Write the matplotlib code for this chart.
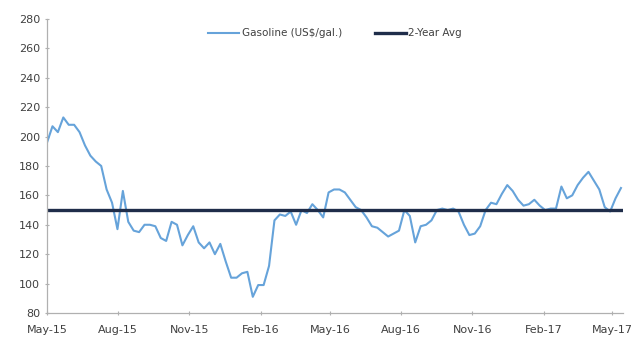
import numpy as np
import pandas as pd
import matplotlib
matplotlib.use("Agg")
import matplotlib.pyplot as plt
import matplotlib.dates as mdates

# weekly gasoline price (US cents/gal)
start_date = "2015-05-01"
gasoline = [196, 207, 203, 213, 208, 208, 203, 194, 187, 183,
            180, 164, 155, 137, 163, 142, 136, 135, 140, 140,
            139, 131, 129, 142, 140, 126, 133, 139, 128, 124,
            128, 120, 127, 115, 104, 104, 107, 108, 91, 99,
            99, 112, 143, 147, 146, 149, 140, 150, 148, 154,
            150, 145, 162, 164, 164, 162, 157, 152, 150, 145,
            139, 138, 135, 132, 134, 136, 150, 146, 128, 139,
            140, 143, 150, 151, 150, 151, 149, 140, 133, 134,
            139, 150, 155, 154, 161, 167, 163, 157, 153, 154,
            157, 153, 150, 151, 151, 166, 158, 160, 167, 172,
            176, 170, 164, 152, 149, 158, 165]
avg_value = 150
tick_dates = ["2015-05-01", "2015-08-01", "2015-11-01", "2016-02-01", "2016-05-01",
              "2016-08-01", "2016-11-01", "2017-02-01", "2017-05-01"]
tick_labels = ["May-15", "Aug-15", "Nov-15", "Feb-16", "May-16",
               "Aug-16", "Nov-16", "Feb-17", "May-17"]
y_ticks = list(range(80, 281, 20))

dates = pd.date_range(start_date, periods=len(gasoline), freq="7D")

fig = plt.figure(figsize=(6.36, 3.38), dpi=100)
ax = fig.add_axes([0.074, 0.074, 0.906, 0.870])

ax.plot(dates, gasoline, color="#66A3DA", lw=1.5, label="Gasoline (US$/gal.)")
ax.plot([dates[0], dates[-1]], [avg_value, avg_value], color="#1F2D4A", lw=2.4,
        label="2-Year Avg")

ax.set_ylim(80, 280)
ax.set_yticks(y_ticks)
ax.set_xlim(pd.Timestamp("2015-05-01"), pd.Timestamp("2017-05-15"))
ax.set_xticks(pd.to_datetime(tick_dates))
ax.set_xticklabels(tick_labels)

for s in ["top", "right"]:
    ax.spines[s].set_visible(False)
for s in ["left", "bottom"]:
    ax.spines[s].set_color("#B0B0B0")
    ax.spines[s].set_linewidth(0.9)
ax.tick_params(axis="both", colors="#B0B0B0", labelcolor="#404040", labelsize=8,
               length=3, direction="inout")
ax.tick_params(axis="x", pad=7)

ax.legend(loc="upper center", bbox_to_anchor=(0.5, 1.0), ncol=2, frameon=False,
          fontsize=7.5, handlelength=3, columnspacing=3.2, handletextpad=0.2,
          labelcolor="#404040")

fig.savefig("out.png", dpi=100)
